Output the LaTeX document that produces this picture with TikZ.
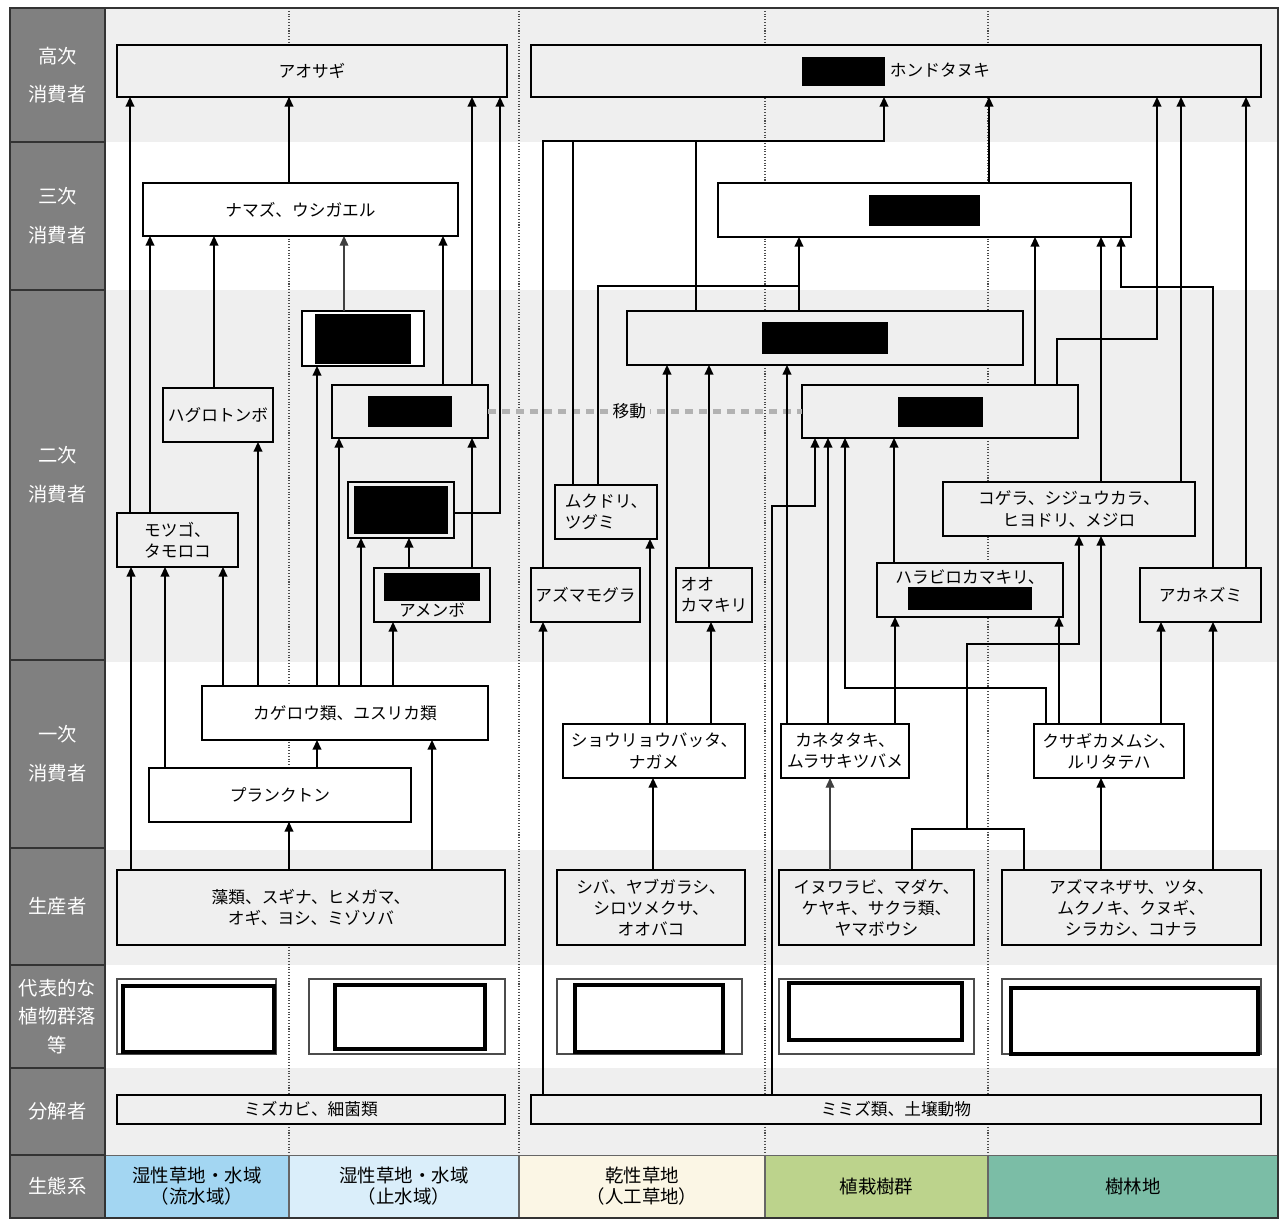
\documentclass[tikz,border=0pt]{standalone}
\usepackage{fontspec}
\setmainfont{Noto Sans CJK JP}
\usetikzlibrary{arrows.meta, positioning}

\definecolor{bandgray}{HTML}{EFEFEF}
\definecolor{labgray}{HTML}{808080}
\definecolor{ecoA}{HTML}{A3D6F2}
\definecolor{ecoB}{HTML}{DAEEFA}
\definecolor{ecoC}{HTML}{FBF6E5}
\definecolor{ecoD}{HTML}{BCD38C}
\definecolor{ecoE}{HTML}{7BBDA6}

\newcommand\blackout[2]{\rule[\dimexpr 0.33em-#2/2\relax]{#1}{#2}}

\begin{document}
\begin{tikzpicture}[
    x=0.02cm, y=-0.02cm,
    every node/.style={font=\fontsize{9.5}{12}\selectfont, align=center, inner sep=0pt, outer sep=0pt},
    boxw/.style={draw, line width=1pt, fill=white},
    boxg/.style={draw, line width=1pt, fill=bandgray},
    lab/.style={draw=black!80, line width=0.8pt, fill=labgray, text=white, minimum width=1.9cm, font=\fontsize{11}{16}\selectfont},
    eco/.style={draw=black!60, line width=0.6pt, font=\fontsize{10.5}{12}\selectfont},
    arr/.style={-{Triangle[length=5.5pt,width=5pt]}, line width=0.9pt},
    thinarr/.style={arr, line width=0.6pt, draw=black!75},
    link/.style={line width=0.9pt},
    move/.style={line width=2.8pt, draw=black!30, dash pattern=on 4.5pt off 3.5pt},
    divider/.style={densely dotted, line width=0.6pt, draw=black!70},
    photo/.style={draw=black!70, line width=0.6pt, fill=white},
    photoin/.style={draw=black, line width=2.8pt}
]
\useasboundingbox (0,0) rectangle (1281,1218);

% Bands
\fill[bandgray] (105,8) rectangle (1278,142);
\fill[bandgray] (105,290) rectangle (1278,662);
\fill[bandgray] (105,850) rectangle (1278,965);
\fill[bandgray] (105,1068) rectangle (1278,1155);

% Ecosystem dividers
\draw[divider] (289,8) -- (289,1155);
\draw[divider] (519,8) -- (519,1155);
\draw[divider] (765,8) -- (765,1155);
\draw[divider] (988,8) -- (988,1155);

% Row labels
\node[lab, minimum height=2.68cm] (lhigh) at (57.5,75) {高次\\[6pt]消費者};
\node[lab, minimum height=2.96cm] (lthird) at (57.5,216) {三次\\[6pt]消費者};
\node[lab, minimum height=7.4cm] (lsecond) at (57.5,475) {二次\\[6pt]消費者};
\node[lab, minimum height=3.76cm] (lfirst) at (57.5,754) {一次\\[6pt]消費者};
\node[lab, minimum height=2.34cm] (lprod) at (57.5,906.5) {生産者};
\node[lab, minimum height=2.06cm] (lplant) at (57.5,1016.5) {代表的な\\植物群落\\等};
\node[lab, minimum height=1.74cm] (ldecomp) at (57.5,1111.5) {分解者};
\node[lab, minimum height=1.26cm] (leco) at (57.5,1186.5) {生態系};

% Ecosystems
\node[eco, fill=ecoA, minimum width=3.68cm, minimum height=1.26cm] (eco1) at (197,1186.5) {湿性草地・水域\\（流水域）};
\node[eco, fill=ecoB, minimum width=4.6cm, minimum height=1.26cm] (eco2) at (404,1186.5) {湿性草地・水域\\（止水域）};
\node[eco, fill=ecoC, minimum width=4.92cm, minimum height=1.26cm] (eco3) at (642,1186.5) {乾性草地\\（人工草地）};
\node[eco, fill=ecoD, minimum width=4.46cm, minimum height=1.26cm] (eco4) at (876.5,1186.5) {植栽樹群};
\node[eco, fill=ecoE, minimum width=5.8cm, minimum height=1.26cm] (eco5) at (1133,1186.5) {樹林地};

% Water side
\node[boxg, minimum width=7.8cm, minimum height=1.04cm] (aosagi) at (312,71) {アオサギ};
\node[boxw, minimum width=6.3cm, minimum height=1.06cm] (namazu) at (300.5,209.5) {ナマズ、ウシガエル};
\node[boxw, minimum width=2.44cm, minimum height=1.1cm] (redA) at (363,338.5) {\blackout{1.94cm}{1.0cm}};
\node[boxg, minimum width=2.2cm, minimum height=1.08cm] (hagu) at (218,415) {ハグロトンボ};
\node[boxg, minimum width=3.12cm, minimum height=1.06cm] (redB) at (410,411.5) {\blackout{1.7cm}{0.62cm}};
\node[boxg, minimum width=2.12cm, minimum height=1.12cm] (redC) at (401,510) {\blackout{1.9cm}{0.96cm}};
\node[boxg, minimum width=2.32cm, minimum height=1.08cm] (redD) at (432,595) {\blackout{1.94cm}{0.56cm}\\アメンボ};
\node[boxg, minimum width=2.42cm, minimum height=1.08cm] (motsugo) at (177.5,540) {モツゴ、\\タモロコ};
\node[boxw, minimum width=5.72cm, minimum height=1.08cm] (kagero) at (345,713) {カゲロウ類、ユスリカ類};
\node[boxw, minimum width=5.24cm, minimum height=1.08cm] (plankton) at (280,795) {プランクトン};
\node[boxg, minimum width=7.76cm, minimum height=1.5cm] (algae) at (311,907.5) {藻類、スギナ、ヒメガマ、\\オギ、ヨシ、ミゾソバ};
\node[boxg, minimum width=7.76cm, minimum height=0.58cm] (mizukabi) at (311,1109.5) {ミズカビ、細菌類};

% Land side
\node[boxg, minimum width=14.6cm, minimum height=1.04cm] (tanuki) at (896,71) {\blackout{1.66cm}{0.58cm}\hspace{0.1cm}ホンドタヌキ};
\node[boxw, minimum width=8.26cm, minimum height=1.08cm] (sanR) at (924.5,210) {\blackout{2.24cm}{0.62cm}};
\node[boxg, minimum width=7.92cm, minimum height=1.08cm] (niU) at (825,338) {\blackout{2.52cm}{0.64cm}};
\node[boxg, minimum width=5.52cm, minimum height=1.06cm] (niL) at (940,411.5) {\blackout{1.7cm}{0.6cm}};
\node[boxg, minimum width=2.04cm, minimum height=1.08cm, align=left] (mukudori) at (606,512) {ムクドリ、\\ツグミ};
\node[boxg, minimum width=2.18cm, minimum height=1.08cm] (azumamogura) at (585.5,595) {アズマモグラ};
\node[boxg, minimum width=1.52cm, minimum height=1.08cm, align=left] (ookamakiri) at (714,595) {オオ\\カマキリ};
\node[boxg, minimum width=5.04cm, minimum height=1.08cm] (kogera) at (1069,509) {コゲラ、シジュウカラ、\\ヒヨドリ、メジロ};
\node[boxg, minimum width=3.72cm, minimum height=1.08cm] (harabiro) at (970,590) {ハラビロカマキリ、\\\blackout{2.48cm}{0.46cm}};
\node[boxg, minimum width=2.42cm, minimum height=1.08cm] (akanezumi) at (1200.5,595) {アカネズミ};
\node[boxw, minimum width=3.64cm, minimum height=1.08cm] (shoryo) at (654,751) {ショウリョウバッタ、\\ナガメ};
\node[boxw, minimum width=2.56cm, minimum height=1.08cm] (kanetataki) at (845,751) {カネタタキ、\\ムラサキツバメ};
\node[boxw, minimum width=3.0cm, minimum height=1.08cm] (kusagi) at (1109,751) {クサギカメムシ、\\ルリタテハ};
\node[boxg, minimum width=3.76cm, minimum height=1.5cm] (shiba) at (651,907.5) {シバ、ヤブガラシ、\\シロツメクサ、\\オオバコ};
\node[boxg, minimum width=3.9cm, minimum height=1.5cm] (inuwarabi) at (876.5,907.5) {イヌワラビ、マダケ、\\ケヤキ、サクラ類、\\ヤマボウシ};
\node[boxg, minimum width=5.18cm, minimum height=1.5cm] (azumanezasa) at (1131.5,907.5) {アズマネザサ、ツタ、\\ムクノキ、クヌギ、\\シラカシ、コナラ};
\node[boxg, minimum width=14.6cm, minimum height=0.58cm] (mimizu) at (896,1109.5) {ミミズ類、土壌動物};

% Plant community photos
\draw[photo] (117,979) rectangle (276,1054);
\draw[photoin] (123,986) rectangle (274,1052);
\draw[photo] (309,979) rectangle (505,1054);
\draw[photoin] (335,985) rectangle (485,1049);
\draw[photo] (557,979) rectangle (742,1054);
\draw[photoin] (575,985) rectangle (723,1052);
\draw[photo] (779,979) rectangle (974,1054);
\draw[photoin] (789,983) rectangle (962,1040);
\draw[photo] (1002,979) rectangle (1261,1054);
\draw[photoin] (1011,988) rectangle (1258,1054);

% Movement between water and woods
\draw[move] (redB.east) -- (niL.west) node[pos=0.45, fill=bandgray, inner xsep=2pt, text=black] {移動};

% Arrows, water side
\draw[arr] (algae.north -| 131,0) -- (motsugo.south -| 131,0);
\draw[arr] (motsugo.north -| 130,0) -- (aosagi.south -| 130,0);
\draw[arr] (motsugo.north -| 150,0) -- (namazu.south -| 150,0);
\draw[arr] (plankton.north -| 165,0) -- (motsugo.south -| 165,0);
\draw[arr] (kagero.north -| 223,0) -- (motsugo.south -| 223,0);
\draw[arr] (kagero.north -| 258,0) -- (hagu.south -| 258,0);
\draw[arr] (kagero.north -| 317,0) -- (redA.south -| 317,0);
\draw[arr] (kagero.north -| 339,0) -- (redB.south -| 339,0);
\draw[arr] (kagero.north -| 361,0) -- (redC.south -| 361,0);
\draw[arr] (kagero.north -| 393,0) -- (redD.south -| 393,0);
\draw[arr] (redD.north -| 409,0) -- (redC.south -| 409,0);
\draw[arr] (redD.north -| 472,0) -- (redB.south -| 472,0);
\draw[arr] (redC.east |- 0,513) -| (aosagi.south -| 500,0);
\draw[arr] (redB.north -| 472,0) -- (aosagi.south -| 472,0);
\draw[arr] (redB.north -| 443,0) -- (namazu.south -| 443,0);
\draw[thinarr] (redA.north -| 344,0) -- (namazu.south -| 344,0);
\draw[arr] (hagu.north -| 214,0) -- (namazu.south -| 214,0);
\draw[arr] (namazu.north -| 289,0) -- (aosagi.south -| 289,0);
\draw[arr] (plankton.north -| 317,0) -- (kagero.south -| 317,0);
\draw[arr] (algae.north -| 289,0) -- (plankton.south -| 289,0);
\draw[arr] (algae.north -| 432,0) -- (kagero.south -| 432,0);

% Arrows, land side
\draw[arr] (azumamogura.north -| 543,0) |- (884,141) -- (tanuki.south -| 884,0);
\draw[link] (mukudori.north -| 573,0) -- (573,141);
\draw[link] (niU.north -| 696,0) -- (696,141);
\draw[arr] (niU.north -| 799,0) -- (sanR.south -| 799,0);
\draw[link] (mukudori.north -| 598,0) |- (799,286);
\draw[arr] (sanR.north -| 989,0) -- (tanuki.south -| 989,0);
\draw[arr] (niL.north -| 1035,0) -- (sanR.south -| 1035,0);
\draw[arr] (kogera.north -| 1101,0) -- (sanR.south -| 1101,0);
\draw[arr] (akanezumi.north -| 1213,0) |- (1121,287) -- (sanR.south -| 1121,0);
\draw[arr] (niL.north -| 1057,0) |- (1157,339) -- (tanuki.south -| 1157,0);
\draw[arr] (kogera.north -| 1181,0) -- (tanuki.south -| 1181,0);
\draw[arr] (akanezumi.north -| 1246,0) -- (tanuki.south -| 1246,0);
\draw[arr] (shoryo.north -| 667,0) -- (niU.south -| 667,0);
\draw[arr] (ookamakiri.north -| 709,0) -- (niU.south -| 709,0);
\draw[arr] (kanetataki.north -| 787,0) -- (niU.south -| 787,0);
\draw[arr] (kanetataki.north -| 828,0) -- (niL.south -| 828,0);
\draw[arr] (kanetataki.north -| 895,0) -- (harabiro.south -| 895,0);
\draw[arr] (kusagi.north -| 1046,0) |- (845,688) -- (niL.south -| 845,0);
\draw[arr] (mimizu.north -| 772,0) |- (815,506) -- (niL.south -| 815,0);
\draw[arr] (mimizu.north -| 543,0) -- (azumamogura.south -| 543,0);
\draw[arr] (harabiro.north -| 894,0) -- (niL.south -| 894,0);
\draw[arr] (kusagi.north -| 1059,0) -- (harabiro.south -| 1059,0);
\coordinate (fork) at (967,829);
\draw[link] (inuwarabi.north -| 912,0) |- (1024,829) -- (azumanezasa.north -| 1024,0);
\draw[arr] (fork) |- (1079,644) -- (kogera.south -| 1079,0);
\draw[arr] (kusagi.north -| 1101,0) -- (kogera.south -| 1101,0);
\draw[arr] (azumanezasa.north -| 1101,0) -- (kusagi.south -| 1101,0);
\draw[arr] (kusagi.north -| 1161,0) -- (akanezumi.south -| 1161,0);
\draw[arr] (azumanezasa.north -| 1213,0) -- (akanezumi.south -| 1213,0);
\draw[arr] (shoryo.north -| 650,0) -- (mukudori.south -| 650,0);
\draw[arr] (shoryo.north -| 711,0) -- (ookamakiri.south -| 711,0);
\draw[arr] (shiba.north -| 653,0) -- (shoryo.south -| 653,0);
\draw[thinarr] (inuwarabi.north -| 830,0) -- (kanetataki.south -| 830,0);

% Frame
\draw[line width=0.8pt, black!80] (10,8) rectangle (1278,1218);
\draw[line width=0.8pt, black!80] (105,8) -- (105,1218);
\end{tikzpicture}
\end{document}
